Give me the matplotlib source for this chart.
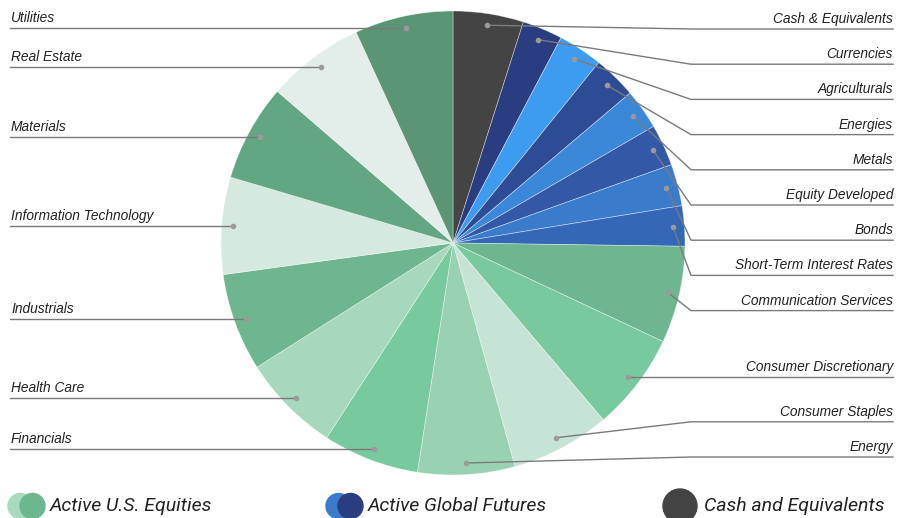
import matplotlib
matplotlib.use("Agg")
import matplotlib.pyplot as plt
from matplotlib.patches import Circle
import numpy as np

# ---- data (percent of portfolio), clockwise from 12 o'clock ----
labels = ["Cash & Equivalents", "Currencies", "Agriculturals", "Energies", "Metals",
          "Equity Developed", "Bonds", "Short-Term Interest Rates",
          "Communication Services", "Consumer Discretionary", "Consumer Staples",
          "Energy", "Financials", "Health Care", "Industrials",
          "Information Technology", "Materials", "Real Estate", "Utilities"]
values = [4.9, 2.8, 3.1, 3.0, 2.8, 2.9, 2.9, 2.8,
          6.75, 6.8, 6.9, 6.75, 6.7, 6.85, 6.8, 6.75, 6.75, 6.8, 6.85]
colors = ["#444444", "#2a3d80", "#3d9cf0", "#2e4b96", "#3b88d8", "#3258a6", "#3a7bcc", "#3567b7",
          "#6db690", "#79c99e", "#c6e4d5", "#98d2b2", "#79c99e", "#a5d8bc", "#6db690",
          "#d5e9de", "#62a683", "#e3eeea", "#5a9575"]
legend_labels = ["Active U.S. Equities", "Active Global Futures", "Cash and Equivalents"]
legend_colors = [("#a8dac0", "#6db690"), ("#3a7bcc", "#2a3d80"), ("#444444", "#444444")]

W, H = 906, 518
fig = plt.figure(figsize=(W / 100, H / 100), dpi=100)
ax = fig.add_axes([0, 0, 1, 1])

cx, cy, R = 453, H - 243, 232
wedges, _ = ax.pie(values, colors=colors, startangle=90, counterclock=False,
                   center=(cx, cy), radius=R,
                   wedgeprops=dict(linewidth=0.5, edgecolor=(1, 1, 1, 0.5)))
ax.set_xlim(0, W)
ax.set_ylim(0, H)
ax.set_aspect("auto")
ax.axis("off")

font = ["Liberation Sans", "DejaVu Sans"]
line_c = "#7a7a7a"
dot_c = "#9a9a9a"

right, left = [], []
for w, lab in zip(wedges, labels):
    mid = np.deg2rad((w.theta1 + w.theta2) / 2)
    dx, dy = cx + 0.95 * R * np.cos(mid), cy + 0.95 * R * np.sin(mid)
    (right if np.cos(mid) >= 0 else left).append((lab, dx, dy))

# right side: spread labels vertically (pixel coords from top)
spacing, top_y, bot_y = 35.2, 29, 457
ys = []
for lab, dx, dy in right:
    ypx = H - dy
    if ys:
        ypx = max(ypx, ys[-1] + spacing)
    ys.append(max(ypx, top_y))
for i in range(len(ys) - 1, -1, -1):
    lim = bot_y if i == len(ys) - 1 else ys[i + 1] - spacing
    ys[i] = min(ys[i], lim)

for (lab, dx, dy), ypx in zip(right, ys):
    ly = H - ypx
    ax.plot([dx, 691, 893], [dy, ly, ly], color=line_c, lw=1.0, zorder=3)
    ax.plot(dx, dy, "o", ms=4, color=dot_c, mec="none", zorder=4)
    ax.text(893, ly + 3, lab, ha="right", va="bottom", fontsize=9.9, style="italic",
            family=font, color="#222222")

for lab, dx, dy in left:
    ax.plot([10, dx], [dy, dy], color=line_c, lw=1.0, zorder=3)
    ax.plot(dx, dy, "o", ms=4, color=dot_c, mec="none", zorder=4)
    ax.text(11, dy + 3, lab, ha="left", va="bottom", fontsize=9.9, style="italic",
            family=font, color="#222222")

# legend
lx = [20.5, 338.5, 680]
text_x = [50, 368, 704]
ly = H - 506
for x, tx, (c1, c2), lab in zip(lx, text_x, legend_colors, legend_labels):
    ax.add_patch(Circle((x, ly), 12.5, color=c1, zorder=5))
    if c1 != c2:
        ax.add_patch(Circle((x + 12, ly), 12.5, color=c2, zorder=6))
    else:
        ax.add_patch(Circle((x, ly), 17, color=c2, zorder=6))
    ax.text(tx, ly, lab, ha="left", va="center", fontsize=14, style="italic",
            family=["Roboto", "DejaVu Sans"], color="#222222")

fig.savefig("out.png", dpi=100)
